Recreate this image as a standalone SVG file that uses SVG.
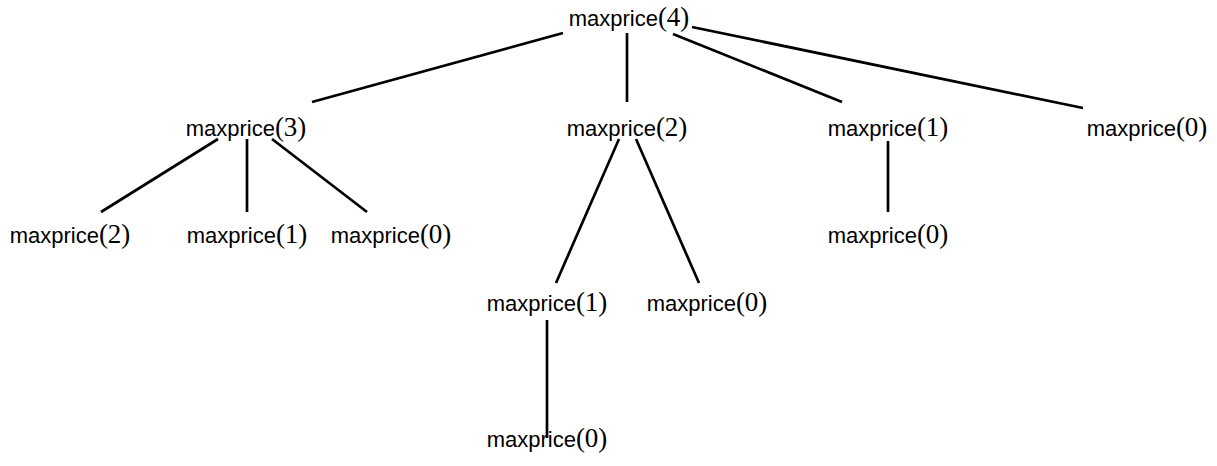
<svg xmlns="http://www.w3.org/2000/svg" width="1217" height="466" viewBox="0 0 1217 466">
<style>
.t{font-family:"Liberation Sans",Arial,sans-serif;font-size:22px;fill:#000;text-anchor:middle}
.n{font-family:"Liberation Serif","Times New Roman",serif;font-size:27px}
.e line{stroke:#000;stroke-width:2.7;stroke-linecap:butt}
</style>
<rect width="1217" height="466" fill="#fff"/>
<g id="edges" class="e">
<line x1="563" y1="33" x2="312" y2="102"/>
<line x1="627" y1="33" x2="627" y2="102"/>
<line x1="673" y1="34" x2="842" y2="102"/>
<line x1="692" y1="27" x2="1083" y2="108"/>
<line x1="218" y1="139" x2="101" y2="212"/>
<line x1="247" y1="139" x2="247" y2="212"/>
<line x1="272" y1="139" x2="367" y2="212"/>
<line x1="619" y1="139" x2="556" y2="283"/>
<line x1="636" y1="139" x2="699" y2="283"/>
<line x1="888" y1="141" x2="888" y2="212"/>
<line x1="547" y1="320" x2="547" y2="438"/>
</g>
<g id="n4"><text class="t" x="629" y="26">maxprice<tspan class="n">(4)</tspan></text></g>
<g id="n3"><text class="t" x="246" y="136">maxprice<tspan class="n">(3)</tspan></text></g>
<g id="n2"><text class="t" x="627" y="136">maxprice<tspan class="n">(2)</tspan></text></g>
<g id="n1"><text class="t" x="888" y="136">maxprice<tspan class="n">(1)</tspan></text></g>
<g id="n0"><text class="t" x="1147" y="136">maxprice<tspan class="n">(0)</tspan></text></g>
<g id="n3_2"><text class="t" x="70" y="243">maxprice<tspan class="n">(2)</tspan></text></g>
<g id="n3_1"><text class="t" x="247" y="243">maxprice<tspan class="n">(1)</tspan></text></g>
<g id="n3_0"><text class="t" x="391" y="243">maxprice<tspan class="n">(0)</tspan></text></g>
<g id="n2_1"><text class="t" x="547" y="311">maxprice<tspan class="n">(1)</tspan></text></g>
<g id="n2_0"><text class="t" x="707" y="311">maxprice<tspan class="n">(0)</tspan></text></g>
<g id="n2_1_0"><text class="t" x="547" y="447">maxprice<tspan class="n">(0)</tspan></text></g>
<g id="n1_0"><text class="t" x="888" y="243">maxprice<tspan class="n">(0)</tspan></text></g>
</svg>
